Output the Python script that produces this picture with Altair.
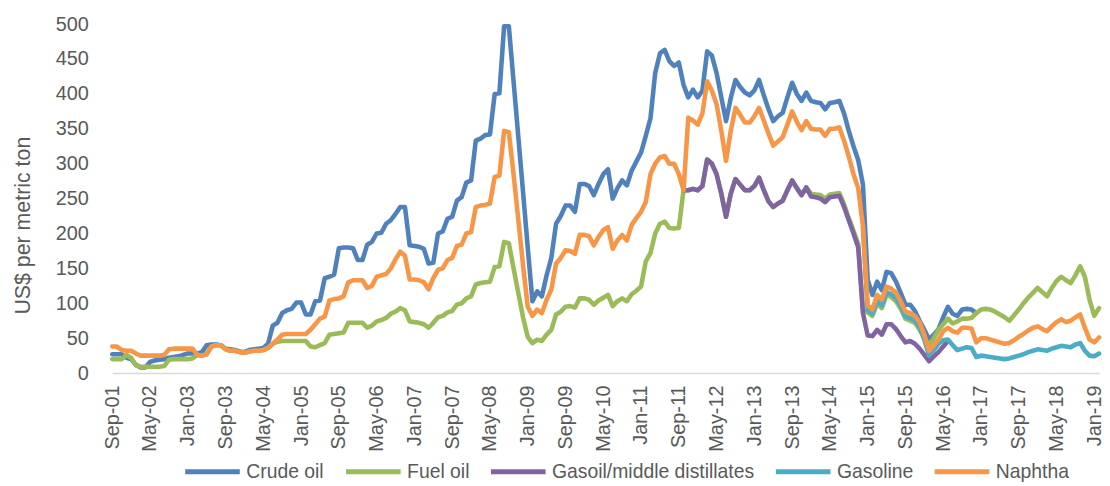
import altair as alt
import pandas as pd

# ---------------- data ----------------
tick_labels = ["Sep-01", "May-02", "Jan-03", "Sep-03", "May-04", "Jan-05", "Sep-05",
               "May-06", "Jan-07", "Sep-07", "May-08", "Jan-09", "Sep-09", "May-10",
               "Jan-11", "Sep-11", "May-12", "Jan-13", "Sep-13", "May-14", "Jan-15",
               "Sep-15", "May-16", "Jan-17", "Sep-17", "May-18", "Jan-19"]
series_names = ["Crude oil", "Fuel oil", "Gasoil/middle distillates", "Gasoline", "Naphtha"]
series_colors = ["#4F81BD", "#9BBB59", "#8064A2", "#4BACC6", "#F79646"]

# month index 0 = Sep-01, monthly to Feb-19 (index 209)
crude_start = 0
crude = [27, 27, 27, 22, 20, 12, 8, 8, 16, 18,
         19, 20, 22, 23, 24, 26, 28, 28, 28, 30,
         40, 41, 41, 40, 35, 34, 33, 31, 30, 33,
         34, 35, 36, 42, 68, 72, 86, 90, 92, 101,
         101, 84, 84, 103, 104, 136, 138, 141, 179, 180,
         180, 179, 162, 162, 184, 188, 200, 201, 214, 219,
         228, 238, 238, 183, 182, 181, 178, 157, 158, 200,
         203, 221, 224, 247, 252, 273, 276, 333, 336, 341,
         342, 400, 401, 497, 497, 418, 339, 260, 180, 103,
         117, 110, 140, 165, 214, 225, 240, 240, 231, 271,
         271, 268, 255, 271, 285, 292, 250, 265, 276, 269,
         290, 303, 316, 340, 365, 430, 458, 463, 447, 440,
         445, 413, 395, 406, 395, 405, 461, 455, 430, 395,
         361, 394, 420, 410, 402, 398, 405, 420, 398, 378,
         361, 368, 373, 395, 416, 400, 390, 402, 390, 388,
         387, 378, 387, 388, 390, 372, 347, 325, 305, 270,
         134, 112, 131, 119, 145, 143, 131, 115, 98, 98,
         89, 75, 62, 48, 55, 63, 80, 95, 85, 82,
         91, 92, 91, 86]

fuel_start = 0
fuel = [20, 20, 20, 26, 22, 11, 9, 9, 9, 9,
        9, 10, 19, 20, 20, 20, 20, 21, 26, 25,
        27, 38, 40, 40, 34, 32, 32, 30, 29, 31,
        32, 32, 33, 36, 42, 45, 46, 46, 46, 46,
        46, 46, 38, 37, 40, 43, 55, 56, 57, 58,
        72, 72, 72, 72, 65, 68, 74, 76, 79, 85,
        88, 93, 90, 74, 73, 72, 70, 65, 72, 80,
        82, 87, 89, 98, 100, 107, 110, 127, 129, 130,
        131, 152, 153, 188, 186, 150, 115, 80, 52, 43,
        48, 46, 55, 62, 84, 88, 95, 96, 94, 107,
        107, 105, 98, 104, 108, 112, 96, 103, 107, 103,
        113, 118, 124, 160, 172, 200, 214, 217, 208, 207,
        208, 262, 262, 264, 262, 268, 306, 300, 285, 257,
        224, 257, 278, 270, 262, 262, 268, 280, 262, 246,
        238, 243, 247, 262, 276, 265, 255, 266, 257, 256,
        255, 250, 256, 257, 258, 242, 222, 204, 185, 90,
        87, 82, 100, 93, 112, 109, 103, 92, 78, 75,
        72, 62, 50, 40, 50, 62, 70, 78, 71, 74,
        78, 78, 79, 86, 91, 92, 91, 88, 84, 80,
        75, 83, 91, 100, 108, 115, 122, 116, 110, 122,
        132, 138, 133, 129, 140, 153, 138, 105, 82, 93]

gasoil_start = 121
gasoil = [262, 262, 264, 262, 268, 306, 300, 285, 257,
          224, 257, 278, 270, 262, 262, 268, 280, 262, 246,
          238, 243, 247, 262, 276, 265, 255, 266, 253, 252,
          250, 245, 252, 253, 254, 238, 219, 200, 180, 86,
          54, 53, 62, 55, 70, 70, 63, 53, 44, 46,
          42, 35, 26, 17, 24, 30, 38, 46]

gasoline_start = 159
gasoline = [210,
            90, 85, 104, 97, 116, 113, 107, 96, 81, 79,
            75, 66, 48, 25, 33, 42, 47, 48, 40, 33,
            35, 37, 36, 23, 25, 24, 23, 22, 21, 20,
            21, 23, 25, 27, 30, 32, 34, 33, 32, 35,
            37, 39, 38, 37, 41, 43, 32, 25, 24, 28]

naphtha_start = 0
naphtha = [38, 38, 33, 32, 32, 28, 25, 25, 25, 25,
           25, 26, 34, 35, 35, 35, 35, 35, 26, 25,
           27, 38, 40, 40, 34, 32, 32, 30, 29, 31,
           32, 32, 33, 36, 42, 48, 55, 56, 56, 56,
           56, 56, 62, 70, 78, 81, 104, 106, 107, 110,
           130, 133, 133, 133, 122, 125, 138, 140, 142, 150,
           163, 174, 168, 134, 134, 133, 130, 120, 136, 148,
           150, 162, 165, 182, 184, 200, 202, 238, 240, 241,
           243, 281, 283, 347, 345, 285, 220, 155, 95, 82,
           91, 86, 105, 120, 157, 165, 176, 175, 171, 198,
           198, 196, 183, 195, 205, 209, 178, 190, 198, 190,
           212, 222, 231, 245, 285, 300, 309, 311, 300, 300,
           285, 262, 366, 362, 356, 372, 418, 405, 385, 347,
           304, 347, 380, 370, 359, 359, 368, 380, 362, 343,
           326, 332, 338, 356, 375, 360, 348, 361, 350, 349,
           349, 340, 350, 350, 352, 333, 310, 285, 265, 210,
           97, 91, 112, 105, 124, 121, 115, 103, 88, 86,
           82, 73, 55, 32, 40, 48, 60, 65, 60, 58,
           65, 65, 64, 44, 50, 50, 48, 46, 44, 42,
           43, 47, 52, 56, 61, 65, 67, 63, 60, 67,
           73, 77, 73, 75, 80, 84, 65, 48, 44, 51]

# ---------------- table ----------------
rows = []
for name, start, vals in [("Crude oil", crude_start, crude),
                          ("Fuel oil", fuel_start, fuel),
                          ("Gasoil/middle distillates", gasoil_start, gasoil),
                          ("Gasoline", gasoline_start, gasoline),
                          ("Naphtha", naphtha_start, naphtha)]:
    for i, v in enumerate(vals):
        rows.append({"m": start + i, "v": v, "series": name})
df = pd.DataFrame(rows)

FONT = "Liberation Sans"
GREY = "#595959"
label_array = "[" + ",".join("'" + t + "'" for t in tick_labels) + "]"

x_enc = alt.X(
    "m:Q",
    scale=alt.Scale(domain=[0, 209], nice=False, zero=False),
    axis=alt.Axis(
        values=list(range(0, 209, 8)),
        labelExpr=label_array + "[round(datum.value / 8)]",
        labelAngle=270,
        labelAlign="right",
        labelBaseline="middle",
        labelPadding=12,
        labelFont=FONT,
        labelFontSize=20,
        labelColor=GREY,
        labelOverlap=False,
        labelBound=False,
        labelFlush=False,
        ticks=False,
        grid=False,
        domainColor="#D9D9D9",
        domainWidth=1.5,
        title=None,
    ),
)
y_enc = alt.Y(
    "v:Q",
    scale=alt.Scale(domain=[0, 500], nice=False),
    axis=alt.Axis(
        values=list(range(0, 501, 50)),
        domain=False,
        ticks=False,
        grid=False,
        labelPadding=24,
        labelFont=FONT,
        labelFontSize=20,
        labelColor=GREY,
        labelFlush=False,
        labelBound=False,
        title="US$ per metric ton",
        titleFont=FONT,
        titleFontSize=21.5,
        titleFontWeight="normal",
        titleColor=GREY,
        titleAngle=270,
        titleAlign="center",
        titleBaseline="middle",
        titleX=-89.5,
        titleY=202.5,
    ),
)
color_enc = alt.Color(
    "series:N",
    scale=alt.Scale(domain=series_names, range=series_colors),
    legend=alt.Legend(
        orient="none",
        legendX=71,
        legendY=421,
        direction="horizontal",
        columns=5,
        title=None,
        symbolType="stroke",
        symbolSize=3025,
        symbolStrokeWidth=5,
        labelFont=FONT,
        labelFontSize=19.5,
        labelColor=GREY,
        labelOffset=4,
        labelLimit=400,
        columnPadding=11,
    ),
)

base = alt.Chart(df)
layers = []
for name in series_names:
    layers.append(
        base.transform_filter(alt.datum.series == name)
        .mark_line(strokeWidth=4.6, strokeCap="round", strokeJoin="round")
        .encode(x=x_enc, y=y_enc, color=color_enc, order="m:Q")
    )

chart = (
    alt.layer(*layers)
    .properties(
        width=994,
        height=351.5,
        autosize=alt.AutoSizeParams(type="none"),
        padding={"left": 105, "top": 14.5, "right": 3, "bottom": 112},
        background="white",
    )
    .configure_view(strokeWidth=0)
)

chart.save("out.html", embed_options={"renderer": "svg", "actions": False})
